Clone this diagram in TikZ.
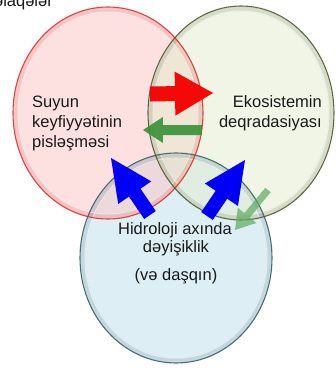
\documentclass[tikz,border=0pt]{standalone}
\usepackage{fontspec}
\setmainfont{Liberation Sans}
\usetikzlibrary{calc}
\definecolor{redfill}{RGB}{251,195,195}
\definecolor{greenfill}{RGB}{226,236,204}
\definecolor{bluefill}{RGB}{188,224,234}
\definecolor{redline}{RGB}{215,35,35}
\definecolor{greenline}{RGB}{70,80,40}
\definecolor{blueline}{RGB}{45,85,95}
\definecolor{arrred}{RGB}{245,8,8}
\definecolor{arrgreen}{RGB}{55,145,55}
\definecolor{arrlight}{RGB}{95,170,95}
\definecolor{arrblue}{RGB}{0,0,245}
\definecolor{txt}{RGB}{25,25,25}
\newcommand{\blockarr}[7]{% #1 prefix, #2 tail, #3 tip, #4 shaft half width, #5 head half width, #6 head length, #7 style
  \coordinate (#1h) at ($(#3)!#6!(#2)$);
  \fill[#7] ($(#2)!#4!90:(#3)$) -- ($(#1h)!#4!-90:(#2)$) -- ($(#1h)!#5!-90:(#2)$) -- (#3)
    -- ($(#1h)!#5!90:(#2)$) -- ($(#1h)!#4!90:(#2)$) -- ($(#2)!#4!-90:(#3)$) -- cycle;
}
\begin{document}
\begin{tikzpicture}[x=1pt,y=-1pt,
  lbl/.style={inner sep=0pt, text=txt, font=\fontsize{16.5}{20}\selectfont},
  blob/.style={fill opacity=0.5},
  rim/.style={line width=5pt, draw opacity=0.15},
  edge/.style={line width=1.1pt, draw opacity=0.85}]
\useasboundingbox (0,0) rectangle (336,368);
\clip (0,0) rectangle (336,368);
% centres
\coordinate (cr) at (108,113);
\coordinate (cg) at (241,113);
\coordinate (cb) at (176,258);
% fills
\fill[blob, fill=bluefill]  (cb) ellipse [x radius=96, y radius=105];
\fill[blob, fill=redfill]   (cr) ellipse [x radius=95, y radius=106];
\fill[blob, fill=greenfill] (cg) ellipse [x radius=93, y radius=107];
% rims
\draw[rim, draw=blueline]  (cb) ellipse [x radius=93, y radius=102];
\draw[rim, draw=redline]   (cr) ellipse [x radius=92, y radius=103];
\draw[rim, draw=greenline] (cg) ellipse [x radius=90, y radius=104];
\draw[line width=1pt, white, draw opacity=0.6] (cr) ellipse [x radius=90, y radius=101];
\draw[line width=1pt, white, draw opacity=0.6] (cg) ellipse [x radius=88, y radius=102];
\draw[line width=1pt, white, draw opacity=0.6] (cb) ellipse [x radius=91, y radius=100];
% borders
\draw[edge, draw=blueline]  (cb) ellipse [x radius=96, y radius=105];
\draw[edge, draw=redline]   (cr) ellipse [x radius=95, y radius=106];
\draw[edge, draw=greenline] (cg) ellipse [x radius=93, y radius=107];
% arrows
\coordinate (ra1) at (150,94);  \coordinate (ra2) at (213,93);
\coordinate (ga1) at (202,130); \coordinate (ga2) at (143,130);
\coordinate (bl1) at (150,215); \coordinate (bl2) at (111,158);
\coordinate (br1) at (207,216); \coordinate (br2) at (245,160);
\coordinate (la1) at (268,190); \coordinate (la2) at (235,230);
\blockarr{ra}{ra1}{ra2}{7.5pt}{22pt}{38pt}{arrred}
\blockarr{ga}{ga1}{ga2}{5pt}{13pt}{20pt}{arrgreen, fill opacity=0.9}
\blockarr{bl}{bl1}{bl2}{7pt}{20pt}{42pt}{arrblue}
\blockarr{br}{br1}{br2}{7pt}{20pt}{42pt}{arrblue}
\blockarr{la}{la1}{la2}{3.5pt}{12pt}{19pt}{arrlight, fill opacity=0.7}
% texts
\node[lbl, anchor=base east] (t0) at (53,6) {əlaqələr};
\node[lbl, anchor=base west] (r1) at (32,107) {Suyun};
\node[lbl, anchor=base west] (r2) at (32,127) {keyfiyyətinin};
\node[lbl, anchor=base west] (r3) at (32,147) {pisləşməsi};
\node[lbl, anchor=base east] (g1) at (322,107) {Ekosistemin};
\node[lbl, anchor=base east] (g2) at (322,127) {deqradasiyası};
\node[lbl, anchor=base] (b1) at (175,234) {Hidroloji axında};
\node[lbl, anchor=base] (b2) at (176,252) {dəyişiklik};
\node[lbl, anchor=base] (b3) at (176,280) {(və daşqın)};
\end{tikzpicture}
\end{document}
